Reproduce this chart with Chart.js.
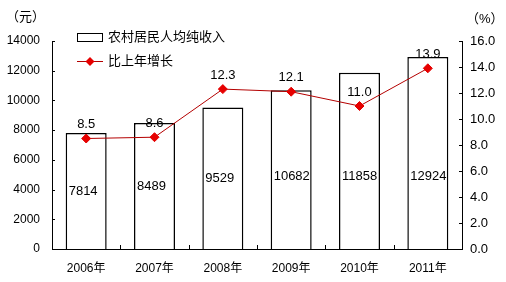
<!DOCTYPE html>
<html>
<head>
<meta charset="utf-8">
<script src="https://cdn.jsdelivr.net/npm/chart.js@4.4.0/dist/chart.umd.min.js"></script>
<style>
  html, body { margin: 0; padding: 0; background: #fff; }
</style>
</head>
<body>
<canvas id="incomeChart" width="506" height="282"></canvas>
<script>
// data
const years = ['2006年', '2007年', '2008年', '2009年', '2010年', '2011年'];
const income = [7814, 8489, 9529, 10682, 11858, 12924];   // 元
const growth = [8.5, 8.6, 12.3, 12.1, 11.0, 13.9];        // %
const incomeLabel = '农村居民人均纯收入';
const growthLabel = '比上年增长';

const FONT = "'Liberation Sans', Arial, 'Noto Sans CJK SC', sans-serif";
const lineRed = '#b40000';
const markRed = '#e60000';

// value labels, small inward ticks, legend and unit captions
const decorations = {
  id: 'decorations',
  afterDatasetsDraw(chart) {
    const ctx = chart.ctx;
    const area = chart.chartArea;
    const y = chart.scales.y;
    const y1 = chart.scales.y1;
    const x = chart.scales.x;
    ctx.save();

    // bar values, inside the bars
    ctx.fillStyle = '#000';
    ctx.font = '13px ' + FONT;
    ctx.textAlign = 'left';
    ctx.textBaseline = 'middle';
    chart.getDatasetMeta(0).data.forEach((bar, i) => {
      const mid = (bar.y + bar.base) / 2;
      const ty = Math.max(mid, y.getPixelForValue(4900));
      ctx.fillText(String(income[i]), bar.x - bar.width / 2 + 3, ty);
    });

    // growth values, above the points
    ctx.textAlign = 'center';
    chart.getDatasetMeta(1).data.forEach((pt, i) => {
      ctx.fillText(growth[i].toFixed(1), pt.x, pt.y - 14);
    });

    // inward tick marks
    ctx.strokeStyle = '#000';
    ctx.lineWidth = 1;
    ctx.beginPath();
    y.ticks.forEach(t => {
      const py = Math.round(y.getPixelForValue(t.value)) + 0.5;
      ctx.moveTo(area.left, py); ctx.lineTo(area.left + 3, py);
    });
    y1.ticks.forEach(t => {
      const py = Math.round(y1.getPixelForValue(t.value)) + 0.5;
      ctx.moveTo(area.right - 3, py); ctx.lineTo(area.right, py);
    });
    for (let i = 1; i < years.length; i++) {
      const px = Math.round((x.getPixelForValue(i - 1) + x.getPixelForValue(i)) / 2) + 0.5;
      ctx.moveTo(px, area.bottom); ctx.lineTo(px, area.bottom - 4);
    }
    ctx.stroke();

    // legend
    ctx.textAlign = 'left';
    ctx.fillStyle = '#fff';
    ctx.fillRect(77.5, 33.5, 25, 8);
    ctx.strokeRect(77.5, 33.5, 25, 8);
    ctx.fillStyle = '#000';
    ctx.fillText(incomeLabel, 108, 37);

    ctx.strokeStyle = lineRed;
    ctx.beginPath();
    ctx.moveTo(77, 61.5); ctx.lineTo(103, 61.5);
    ctx.stroke();
    ctx.fillStyle = markRed;
    ctx.beginPath();
    ctx.moveTo(90, 57); ctx.lineTo(94.5, 61.5); ctx.lineTo(90, 66); ctx.lineTo(85.5, 61.5);
    ctx.closePath();
    ctx.fill();
    ctx.fillStyle = '#000';
    ctx.fillText(growthLabel, 108, 61);

    // unit captions
    ctx.fillText('（元）', 6, 17);
    ctx.fillText('（%）', 466, 19);
    ctx.restore();
  }
};

const ctx = document.getElementById('incomeChart').getContext('2d');

new Chart(ctx, {
  data: {
    labels: years,
    datasets: [
      {
        type: 'bar',
        label: incomeLabel,
        data: income,
        yAxisID: 'y',
        backgroundColor: '#fff',
        borderColor: '#000',
        borderWidth: 1.5,
        barPercentage: 0.6,
        categoryPercentage: 1,
        order: 2
      },
      {
        type: 'line',
        label: growthLabel,
        data: growth,
        yAxisID: 'y1',
        borderColor: lineRed,
        borderWidth: 1,
        pointStyle: 'rectRot',
        pointRadius: 4.5,
        pointBackgroundColor: markRed,
        pointBorderColor: markRed,
        tension: 0,
        order: 1
      }
    ]
  },
  options: {
    responsive: false,
    animation: false,
    layout: { padding: { top: 41 } },
    plugins: {
      legend: { display: false },
      tooltip: { enabled: false }
    },
    scales: {
      x: {
        offset: true,
        grid: { display: false, drawTicks: false },
        border: { display: true, color: '#000' },
        ticks: { color: '#000', font: { size: 12, family: FONT }, padding: 12 },
        afterFit(s) { s.height = 33; }
      },
      y: {
        position: 'left',
        min: 0,
        max: 14000,
        grid: { display: false, drawTicks: false },
        border: { display: true, color: '#000' },
        ticks: {
          stepSize: 2000,
          color: '#000',
          font: { size: 12, family: FONT },
          padding: 12,
          callback: v => String(v)
        },
        afterFit(s) { s.width = 52; }
      },
      y1: {
        position: 'right',
        min: 0,
        max: 16,
        grid: { display: false, drawTicks: false },
        border: { display: true, color: '#000' },
        ticks: {
          stepSize: 2,
          color: '#000',
          font: { size: 13, family: FONT },
          padding: 8,
          callback: v => Number(v).toFixed(1)
        },
        afterFit(s) { s.width = 44; }
      }
    }
  },
  plugins: [decorations]
});
</script>
</body>
</html>
